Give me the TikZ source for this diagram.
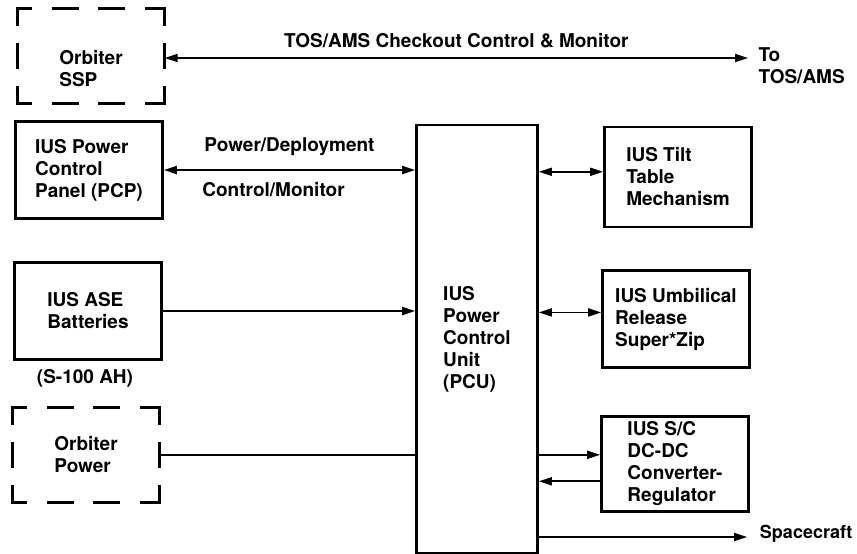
\documentclass[tikz,border=0pt]{standalone}
\usepackage{fontspec}
\setmainfont{TeX Gyre Heros}
\usetikzlibrary{arrows.meta}

\begin{document}
\begin{tikzpicture}[x=1pt,y=-1pt,
  >={Triangle[length=13pt,width=8pt]},
  font=\fontsize{19}{22}\selectfont\bfseries,
  blk/.style={draw,line width=2.6pt,minimum width=147pt,minimum height=97pt,align=left,inner sep=2pt},
  dbox/.style={minimum width=147pt,minimum height=95pt,align=left,inner sep=2pt},
  hside/.style={line width=2.6pt,line cap=rect,dash pattern=on 13pt off 23pt on 24pt off 22pt on 24pt off 23pt on 18pt off 60pt},
  vside/.style={line width=2.6pt,line cap=rect,dash pattern=on 16pt off 20pt on 23pt off 20pt on 16pt off 60pt},
  wire/.style={line width=1.8pt},
  lab/.style={inner sep=3pt}]
\useasboundingbox (0,0) rectangle (857,554);
\node[dbox] (ssp) at (91,69) {Orbiter\\SSP};
\node[blk] (pcp) at (89,170) {IUS Power\\Control\\Panel (PCP)};
\node[blk] (ase) at (88,311) {IUS ASE\\Batteries};
\node (ah) at (85,378) {(S-100 AH)};
\node[dbox] (opwr) at (86,455) {Orbiter\\Power};
\node[blk,minimum width=121pt,minimum height=428pt] (pcu) at (477,339) {IUS\\Power\\Control\\Unit\\(PCU)};
\node[blk,minimum height=100pt] (tilt) at (678,177) {IUS Tilt\\Table\\Mechanism};
\node[blk] (umb) at (676,319) {IUS Umbilical\\Release\\Super*Zip};
\node[blk,minimum height=95pt] (dcdc) at (675,464) {IUS S/C\\DC-DC\\Converter-\\Regulator};
\coordinate (tos) at (748,58);
\node[anchor=west,align=left] (totos) at (755,66) {To\\TOS/AMS};
\coordinate (sc) at (747,537);
\node[anchor=east,font=\fontsize{18}{22}\selectfont\bfseries] (scr) at (856,534) {Spacecraft};
\foreach \n/\s in {ssp/13pt,opwr/0pt} {
  \draw[hside] ([yshift=\s]\n.north west) -- ([yshift=\s]\n.north east);
  \draw[hside] ([yshift=\s]\n.south west) -- ([yshift=\s]\n.south east);
  \draw[vside] ([yshift=\s]\n.north west) -- ([yshift=\s]\n.south west);
  \draw[vside] ([yshift=\s]\n.north east) -- ([yshift=\s]\n.south east);
}
\draw[wire,<->] ([yshift=11pt]ssp.east) -- node[lab,above=6pt] (tosl) {TOS/AMS Checkout Control \& Monitor} (tos);
\draw[wire,<->] (pcp.east) -- node[lab,above=10pt] (pdl) {Power/Deployment}
  node[lab,below=8pt,xshift=-16pt] (cml) {Control/Monitor} (pcp.east -| pcu.west);
\draw[wire,->] (ase.east) -- (ase.east -| pcu.west);
\draw[wire] (opwr.east) -- (opwr.east -| pcu.west);
\draw[wire,<->] (tilt.176 -| pcu.east) -- (tilt.176);
\draw[wire,<->] (umb.175 -| pcu.east) -- (umb.175);
\draw[wire,->] (dcdc.173 -| pcu.east) -- (dcdc.173);
\draw[wire,<-] (dcdc.193 -| pcu.east) -- (dcdc.193);
\draw[wire,->] (sc -| pcu.east) -- (sc);
\end{tikzpicture}
\end{document}
